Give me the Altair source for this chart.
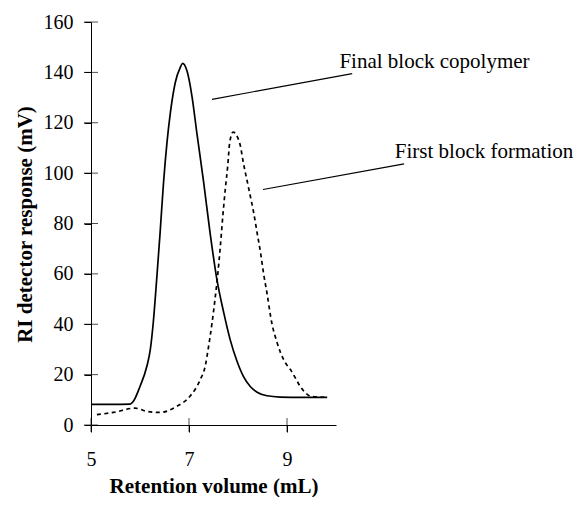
import altair as alt
import pandas as pd

# Final block copolymer (solid)
final_x = [5.0, 5.4, 5.8, 5.865, 6.0, 6.14, 6.21, 6.27, 6.34, 6.41, 6.48, 6.55, 6.62,
           6.72, 6.82, 6.87, 6.96, 7.06, 7.16, 7.30, 7.43, 7.57, 7.71, 7.84, 7.98,
           8.11, 8.25, 8.39, 8.59, 8.86, 9.3, 9.82]
final_y = [8.2, 8.2, 8.3, 9.4, 15.3, 23.3, 29.9, 40.5, 57.7, 76.3, 96.2, 112.0, 124.0,
           136.0, 141.9, 143.6, 140.5, 130.6, 116.0, 96.2, 76.3, 57.7, 44.5, 33.9, 25.3,
           19.3, 15.3, 13.0, 11.6, 11.1, 11.0, 11.0]

# First block formation (dotted)
first_x = [5.12, 5.46, 5.90, 6.14, 6.41, 6.75, 7.02, 7.23, 7.33, 7.40, 7.47, 7.53, 7.59,
           7.64, 7.69, 7.74, 7.79, 7.83, 7.90, 7.98, 8.05, 8.11, 8.18, 8.25, 8.32,
           8.39, 8.46, 8.52, 8.59, 8.69, 8.80, 8.87, 8.97, 9.07, 9.17, 9.27, 9.38,
           9.48, 9.68, 9.80]
first_y = [4.1, 5.0, 6.7, 5.4, 5.0, 7.4, 11.4, 18.0, 23.3, 31.2, 40.5, 49.8, 60.4,
           71.0, 82.9, 93.5, 102.8, 112.0, 116.3, 114.7, 110.7, 104.0, 97.5, 91.0, 84.3,
           76.3, 68.4, 60.4, 52.5, 40.5, 32.6, 28.6, 24.6, 22.0, 18.7, 15.3, 12.7,
           11.4, 11.1, 11.0]

x_ticks = [5, 7, 9]
y_ticks = [0, 20, 40, 60, 80, 100, 120, 140, 160]

label_text = ["Final block copolymer", "First block formation"]
label_x = [10.07, 11.2]
label_y = [141.9, 106.2]
leader_x1 = [7.47, 8.51]
leader_y1 = [129.3, 93.5]
leader_x2 = [10.33, 11.39]
leader_y2 = [139.5, 103.7]

X_TITLE = "Retention volume (mL)"
Y_TITLE = "RI detector response (mV)"
SERIF = "Liberation Serif"

xscale = alt.Scale(domain=[5, 10], nice=False, zero=False)
yscale = alt.Scale(domain=[0, 160], nice=False, zero=False)

xaxis = alt.Axis(values=x_ticks, labelPadding=17, tickSize=7, titleY=67,
                 titleBaseline="alphabetic", labelFlush=False)
yaxis = alt.Axis(values=y_ticks, labelPadding=11, tickSize=7, titleX=-60,
                 titleY=202, titleBaseline="alphabetic", labelFlush=False)


def X(field):
    return alt.X(field, type="quantitative", scale=xscale, axis=xaxis, title=X_TITLE)


def Y(field):
    return alt.Y(field, type="quantitative", scale=yscale, axis=yaxis, title=Y_TITLE)


final_df = pd.DataFrame({"x": final_x, "y": final_y})
first_df = pd.DataFrame({"x": first_x, "y": first_y})
ann_df = pd.DataFrame({"text": label_text, "x": label_x, "y": label_y,
                       "x1": leader_x1, "y1": leader_y1, "x2": leader_x2, "y2": leader_y2})

final_line = alt.Chart(final_df).mark_line(
    color="black", strokeWidth=1.7, interpolate="monotone"
).encode(x=X("x"), y=Y("y"), order="x:Q")

first_line = alt.Chart(first_df).mark_line(
    color="black", strokeWidth=1.7, strokeDash=[4, 3.5], interpolate="monotone"
).encode(x=X("x"), y=Y("y"), order="x:Q")

leaders = alt.Chart(ann_df).mark_rule(color="black", strokeWidth=1.2).encode(
    x=X("x1"), y=Y("y1"), x2="x2", y2="y2"
)

labels = alt.Chart(ann_df).mark_text(
    align="left", baseline="alphabetic", font=SERIF, fontSize=21, color="black"
).encode(x=X("x"), y=Y("y"), text="text:N")

xt = alt.Chart(pd.DataFrame({"v": x_ticks})).mark_tick(
    orient="vertical", size=14, thickness=1, color="black"
).encode(x=X("v"), y=alt.datum(0))

yt = alt.Chart(pd.DataFrame({"v": y_ticks})).mark_tick(
    orient="horizontal", size=14, thickness=1, color="black"
).encode(x=alt.datum(5), y=Y("v"))

chart = alt.layer(final_line, first_line, leaders, labels, xt, yt).properties(
    width=245, height=403,
    autosize=alt.AutoSizeParams(type="none"),
    padding={"left": 83, "top": 14, "right": 240, "bottom": 72},
).configure(font=SERIF).configure_text(font=SERIF).configure_view(stroke=None).configure_axis(
    grid=False, domainColor="black", tickColor="black", labelColor="black",
    titleColor="black", labelFont=SERIF, labelFontSize=20,
    titleFont=SERIF, titleFontSize=21, titleFontWeight="bold",
    domainWidth=1, tickWidth=1,
)

chart.save("out.html", embed_options={"renderer": "svg", "actions": False})
